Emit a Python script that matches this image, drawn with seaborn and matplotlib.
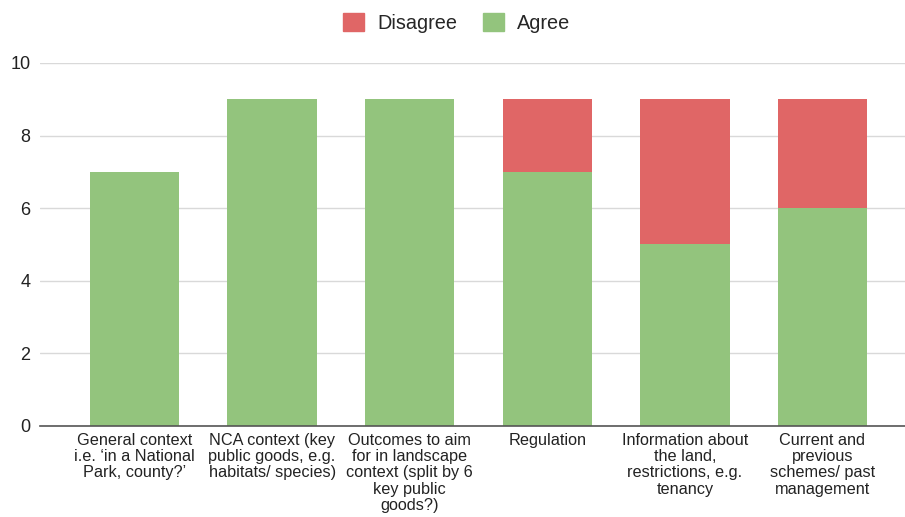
import matplotlib
matplotlib.use("Agg")
import matplotlib.pyplot as plt
import seaborn as sns
import pandas as pd
from matplotlib.patches import Patch

categories = [
    "General context\ni.e. \u2018in a National\nPark, county?\u2019",
    "NCA context (key\npublic goods, e.g.\nhabitats/ species)",
    "Outcomes to aim\nfor in landscape\ncontext (split by 6\nkey public\ngoods?)",
    "Regulation",
    "Information about\nthe land,\nrestrictions, e.g.\ntenancy",
    "Current and\nprevious\nschemes/ past\nmanagement",
]
agree = [7, 9, 9, 7, 5, 6]
disagree = [0, 0, 0, 2, 4, 3]
y_ticks = [0, 2, 4, 6, 8, 10]

red = "#e06666"
green = "#93c47d"

sns.set_theme(style="white")
plt.rcParams["font.family"] = ["Liberation Sans", "DejaVu Sans"]

df = pd.DataFrame({"category": categories, "Agree": agree, "Disagree": disagree})

fig = plt.figure(figsize=(9.05, 5.17), dpi=100)
ax = fig.add_axes([40 / 905, 1 - 426 / 517, 1 - 40 / 905, (426 - 63) / 517])

sns.barplot(data=df, x="category", y="Agree", color=green, width=0.65,
            saturation=1, ax=ax, zorder=3, linewidth=0)
sns.barplot(data=df, x="category", y="Disagree", color=red, width=0.65,
            saturation=1, ax=ax, bottom=df["Agree"], zorder=3, linewidth=0)

ax.set_ylim(0, 10)
ax.set_xlim(-0.687, 5.6)
ax.set_yticks(y_ticks)
ax.set_yticklabels([str(v) for v in y_ticks], fontsize=13, color="#222222")
ax.tick_params(axis="y", length=0, pad=7)
ax.tick_params(axis="x", length=0, pad=5)
ax.set_xticks(range(len(categories)))
ax.set_xticklabels(categories, fontsize=11.7, color="#222222", linespacing=1.1,
                   va="top", ha="center")
ax.set_xlabel("")
ax.set_ylabel("")

ax.yaxis.grid(True, color="#d9d9d9", linewidth=1, zorder=0)
ax.set_axisbelow(True)
for side in ["top", "right", "left"]:
    ax.spines[side].set_visible(False)
ax.spines["bottom"].set_color("#555555")
ax.spines["bottom"].set_linewidth(1.2)
ax.spines["bottom"].set_zorder(4)

handles = [Patch(facecolor=red, edgecolor=red, label="Disagree"),
           Patch(facecolor=green, edgecolor=green, label="Agree")]
fig.legend(handles=handles, loc="center", bbox_to_anchor=(456.5 / 905, 1 - 23 / 517),
           ncol=2, frameon=False, fontsize=14.3, handlelength=1.05,
           handleheight=1.05, handletextpad=0.65, columnspacing=1.3)

fig.savefig("out.png", dpi=100)
